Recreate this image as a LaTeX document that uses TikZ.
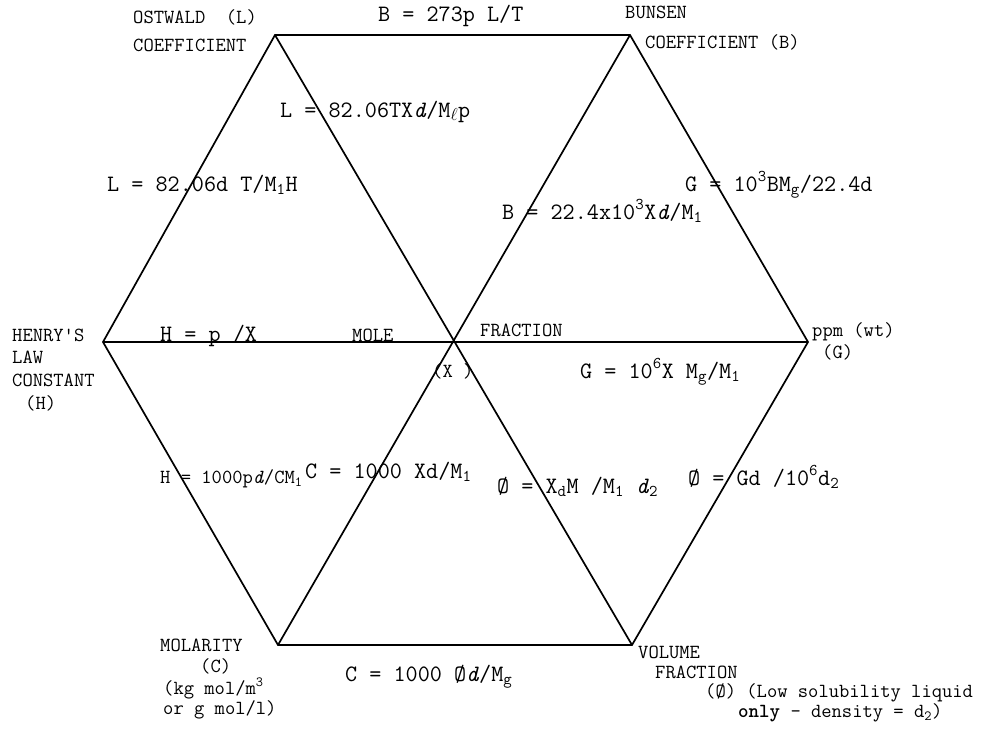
\documentclass[tikz,border=0pt]{standalone}
\begin{document}
\begin{tikzpicture}[x=1pt,y=-1pt,
  edge/.style={line width=1.7pt,black},
  lbl/.style={anchor=base west,inner sep=0pt,font=\fontsize{20}{22}\selectfont\ttfamily},
  frm/.style={anchor=base west,inner sep=0pt,font=\fontsize{23.5}{26}\selectfont\ttfamily}]
\useasboundingbox (0,0) rectangle (983,739);
% vertices
\coordinate (TL) at (275,35);
\coordinate (TR) at (630,35);
\coordinate (R) at (808,342);
\coordinate (BR) at (632,645);
\coordinate (BL) at (278,645);
\coordinate (L) at (103,342);
\coordinate (X) at (455,342);
% hexagon and diagonals
\draw[edge] (TL) -- (TR) -- (R) -- (BR) -- (BL) -- (L) -- cycle;
\draw[edge] (TL) -- (BR);
\draw[edge] (TR) -- (BL);
\draw[edge] (L) -- (R);
% vertex labels
\node[lbl] (ost1) at (133,23) {OSTWALD~~(L)};
\node[lbl] (ost2) at (133,51) {COEFFICIENT};
\node[lbl] (bun1) at (625,18) {BUNSEN};
\node[lbl] (bun2) at (645,48) {COEFFICIENT (B)};
\node[lbl] (hen1) at (12,341) {HENRY'S};
\node[lbl] (hen2) at (12,363) {LAW};
\node[lbl] (hen3) at (12,386) {CONSTANT};
\node[lbl] (hen4) at (25,409) {(H)};
\node[lbl] (mole) at (352,341) {MOLE};
\node[lbl] (frac) at (480,336) {FRACTION};
\node[lbl] (xl) at (432,377) {(X )};
\node[lbl] (ppm1) at (812,336) {ppm (wt)};
\node[lbl] (ppm2) at (822,358) {(G)};
\node[lbl] (mol1) at (160,651) {MOLARITY};
\node[lbl] (mol2) at (200,672) {(C)};
\node[lbl] (mol3) at (163,694) {(kg mol/m\textsuperscript{3}};
\node[lbl] (mol4) at (163,714) {or g mol/l)};
\node[lbl] (vol1) at (638,658) {VOLUME};
\node[lbl] (vol2) at (655,678) {FRACTION};
\node[lbl] (vol3) at (705,697) {(Ø) (Low solubility liquid};
\node[lbl] (vol4) at (738,717) {\textbf{only} - density = d\textsubscript{2})};
% formulas
\node[frm] (f1) at (378,21) {B = 273p L/T};
\node[frm] (f2) at (280,117) {L = 82.06TX\textit{d}/M\textsubscript{$\ell$}p};
\node[frm] (f3) at (107,191) {L = 82.06d T/M\textsubscript{1}H};
\node[frm] (f4) at (685,191) {G = 10\textsuperscript{3}BM\textsubscript{g}/22.4d};
\node[frm] (f5) at (502,219) {B = 22.4x10\textsuperscript{3}X\textit{d}/M\textsubscript{1}};
\node[frm] (f6) at (160,341) {H = p /X};
\node[frm] (f7) at (580,378) {G = 10\textsuperscript{6}X M\textsubscript{g}/M\textsubscript{1}};
\node[lbl] (f8) at (160,483) {H = 1000p\textit{d}/CM\textsubscript{1}};
\node[frm] (f9) at (305,478) {C = 1000 Xd/M\textsubscript{1}};
\node[frm] (f10) at (497,493) {Ø = X\textsubscript{d}M /M\textsubscript{1} \textit{d}\textsubscript{2}};
\node[frm] (f11) at (688,485) {Ø = Gd /10\textsuperscript{6}d\textsubscript{2}};
\node[frm] (f12) at (345,681) {C = 1000 Ø\textit{d}/M\textsubscript{g}};
\end{tikzpicture}
\end{document}
